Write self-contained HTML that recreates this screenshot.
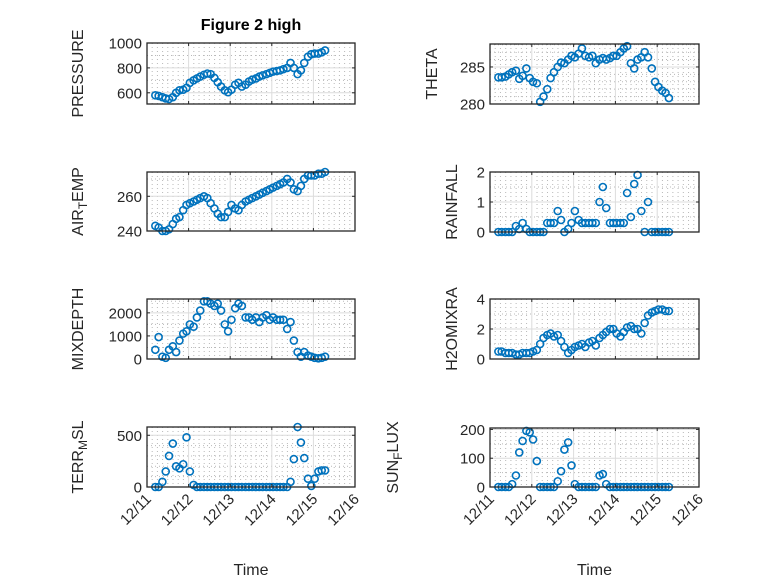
<!DOCTYPE html>
<html><head><meta charset="utf-8">
<style>
html,body{margin:0;padding:0;background:#fff;}
svg{display:block;font-family:"Liberation Sans",sans-serif;}
</style></head>
<body>
<svg id="fig" width="778" height="583" viewBox="0 0 778 583" xmlns="http://www.w3.org/2000/svg">
<rect width="778" height="583" fill="#fff"/>
<text x="251" y="30" text-anchor="middle" font-size="16" font-weight="bold" fill="#000">Figure 2 high</text>
</svg>
<script>
// time in days since 12/11 00:00
const times = [0.20,0.28,0.37,0.45,0.53,0.62,0.70,0.78,0.87,0.95,1.03,1.12,1.20,1.28,1.37,1.45,1.53,1.62,1.70,1.78,1.87,1.95,2.03,2.12,2.20,2.28,2.37,2.45,2.53,2.62,2.70,2.78,2.87,2.95,3.03,3.12,3.20,3.28,3.37,3.45,3.53,3.62,3.70,3.78,3.87,3.95,4.03,4.12,4.20,4.28];
const xTickLabels = ["12/11","12/12","12/13","12/14","12/15","12/16"];
const pressure = [580,575,565,555,550,565,600,620,625,640,680,700,715,730,745,755,750,720,685,650,620,605,625,665,680,650,665,690,705,715,730,740,750,760,770,775,780,790,800,840,800,750,780,840,890,910,915,915,925,940];
const airTemp = [243,242,240,240,241,244,247,248,252,255,256,257,258,259,260,259,256,253,250,248,248,251,255,253,252,255,257,258,259,260,261,262,263,264,265,266,267,268,270,268,264,263,266,270,272,272,272,273,273,274];
const mixDepth = [400,950,100,50,400,550,300,800,1100,1200,1500,1400,1800,2100,2500,2500,2400,2300,2400,2100,1500,1200,1700,2200,2400,2300,1800,1800,1700,1800,1600,1800,1900,1700,1800,1700,1700,1700,1300,1600,800,300,100,300,150,100,50,30,50,100];
const terrMsl = [0,0,50,150,300,420,200,180,220,480,150,20,0,0,0,0,0,0,0,0,0,0,0,0,0,0,0,0,0,0,0,0,0,0,0,0,0,0,0,50,270,580,430,280,80,10,80,150,160,160];
const theta = [283.6,283.6,283.7,284.0,284.3,284.5,283.4,283.8,284.8,283.5,283.0,282.8,280.3,281.0,282.0,283.5,284.3,285.0,285.6,285.5,286.0,286.5,286.3,286.8,287.5,286.5,286.3,286.5,285.5,286.0,286.2,286.0,286.2,286.5,286.5,287.0,287.5,287.8,285.5,284.8,286.0,286.3,287.0,286.3,284.8,283.0,282.3,281.8,281.5,280.8];
const rainfall = [0,0,0,0,0,0.2,0.1,0.3,0.1,0,0,0,0,0,0.3,0.3,0.3,0.7,0.4,0,0.1,0.3,0.7,0.4,0.3,0.3,0.3,0.3,0.3,1.0,1.5,0.8,0.3,0.3,0.3,0.3,0.3,1.3,0.5,1.6,1.9,0.7,0,1.0,0,0,0,0,0,0];
const h2oMix = [0.5,0.5,0.4,0.4,0.4,0.3,0.3,0.4,0.4,0.4,0.5,0.6,1.0,1.4,1.6,1.7,1.5,1.6,1.2,0.8,0.4,0.6,0.8,0.9,1.0,0.8,1.1,1.2,0.9,1.4,1.6,1.8,2.0,2.0,1.7,1.5,1.8,2.1,2.2,2.0,2.0,1.7,2.4,2.9,3.1,3.2,3.3,3.3,3.2,3.2];
const sunFlux = [0,0,0,0,10,40,120,160,195,190,165,90,0,0,0,0,0,20,55,130,155,75,10,0,0,0,0,0,0,40,45,10,0,0,0,0,0,0,0,0,0,0,0,0,0,0,0,0,0,0];

const NS="http://www.w3.org/2000/svg";
const svg=document.getElementById('fig');
function mk(tag,attrs,parent){const e=document.createElementNS(NS,tag);for(const k in attrs)e.setAttribute(k,attrs[k]);(parent||svg).appendChild(e);return e;}

const panels=[
 {name:'pressure',x0:147,x1:355,y0:43,y1:104,ymin:510,ymax:1000,ticks:[600,800,1000],minor:[500,700,900],data:pressure,label:['PRESSURE'],lx:83,bottom:false},
 {name:'air-temp',x0:147,x1:355,y0:172,y1:231,ymin:240,ymax:274,ticks:[240,260],minor:[250,270],data:airTemp,label:['AIR','T','EMP'],lx:83,bottom:false},
 {name:'mixdepth',x0:147,x1:355,y0:299,y1:359,ymin:0,ymax:2600,ticks:[0,1000,2000],minor:[500,1500,2500],data:mixDepth,label:['MIXDEPTH'],lx:83,bottom:false},
 {name:'terr-msl',x0:147,x1:355,y0:427,y1:487,ymin:0,ymax:580,ticks:[0,500],minor:[100,200,300,400],data:terrMsl,label:['TERR','M','SL'],lx:83,bottom:true},
 {name:'theta',x0:490,x1:699,y0:44,y1:104,ymin:280,ymax:288.1,ticks:[280,285],minor:[281,282,283,284,286,287,288],data:theta,label:['THETA'],lx:437,bottom:false},
 {name:'rainfall',x0:490,x1:699,y0:172,y1:232,ymin:0,ymax:2,ticks:[0,1,2],minor:[0.5,1.5],data:rainfall,label:['RAINFALL'],lx:457,bottom:false},
 {name:'h2omixra',x0:490,x1:699,y0:299,y1:359,ymin:0,ymax:4,ticks:[0,2,4],minor:[1,3],data:h2oMix,label:['H2OMIXRA'],lx:457,bottom:false},
 {name:'sun-flux',x0:490,x1:699,y0:428,y1:487,ymin:0,ymax:205,ticks:[0,100,200],minor:[50,150],data:sunFlux,label:['SUN','F','LUX'],lx:398,bottom:true}
];

panels.forEach(p=>{
  const g=mk('g',{});
  
  
  const xs=t=>p.x0+(t/5)*(p.x1-p.x0);
  const ys=v=>p.y1-(v-p.ymin)/(p.ymax-p.ymin)*(p.y1-p.y0);
  mk('rect',{x:p.x0,y:p.y0,width:p.x1-p.x0,height:p.y1-p.y0,fill:'#fff'},g);
  for(let i=1;i<40;i++){ if(i%8===0)continue; const x=xs(i/8);
    mk('line',{x1:x,x2:x,y1:p.y0,y2:p.y1,stroke:'#b8b8b8','stroke-width':1,'stroke-dasharray':'1,3'},g);}
  p.minor.forEach(v=>{ if(v<=p.ymin||v>=p.ymax)return; const y=ys(v);
    mk('line',{x1:p.x0,x2:p.x1,y1:y,y2:y,stroke:'#b8b8b8','stroke-width':1,'stroke-dasharray':'1,3'},g);});
  for(let i=1;i<5;i++){const x=xs(i);mk('line',{x1:x,x2:x,y1:p.y0,y2:p.y1,stroke:'#dcdcdc','stroke-width':1},g);}
  p.ticks.forEach(v=>{const y=ys(v); if(y>p.y0+0.5&&y<p.y1-0.5) mk('line',{x1:p.x0,x2:p.x1,y1:y,y2:y,stroke:'#dcdcdc','stroke-width':1},g);});
  const sg=mk('g',{},g);
  
  
  p.data.forEach((v,i)=>{
    const c=mk('circle',{cx:xs(times[i]),cy:ys(v),r:3.5,fill:'none',stroke:'#0072BD','stroke-width':1.6},sg);
    
    
  });
  mk('rect',{x:p.x0,y:p.y0,width:p.x1-p.x0,height:p.y1-p.y0,fill:'none',stroke:'#262626','stroke-width':1.3},g);
  for(let i=0;i<=5;i++){const x=xs(i);
    mk('line',{x1:x,x2:x,y1:p.y1,y2:p.y1-3,stroke:'#262626'},g);
    mk('line',{x1:x,x2:x,y1:p.y0,y2:p.y0+3,stroke:'#262626'},g);
    if(p.bottom){
      const tl=mk('text',{x:0,y:0,'font-size':15,fill:'#262626','text-anchor':'end',transform:`translate(${x+5},${p.y1+13}) rotate(-45)`},g);
      tl.textContent=xTickLabels[i];
      
      
    }
  }
  p.ticks.forEach(v=>{const y=ys(v);
    mk('line',{x1:p.x0,x2:p.x0+3,y1:y,y2:y,stroke:'#262626'},g);
    mk('line',{x1:p.x1,x2:p.x1-3,y1:y,y2:y,stroke:'#262626'},g);
    const t=mk('text',{x:p.x0-5,y:y+5.5,'font-size':15,fill:'#262626','text-anchor':'end'},g);
    t.textContent=String(v);
    
    
  });
  const cy=(p.y0+p.y1)/2;
  const lab=mk('text',{x:0,y:0,'font-size':16,fill:'#262626','text-anchor':'middle',transform:`translate(${p.lx},${cy}) rotate(-90)`},g);
  
  
  if(p.label.length===1){lab.textContent=p.label[0];}
  else{
    const a=mk('tspan',{},lab);a.textContent=p.label[0];
    const b=mk('tspan',{'font-size':12,dy:4},lab);b.textContent=p.label[1];
    const c=mk('tspan',{dy:-4},lab);c.textContent=p.label[2];
  }
  if(p.bottom){
    const xt=mk('text',{x:(p.x0+p.x1)/2,y:575,'font-size':16,fill:'#262626','text-anchor':'middle'},g);
    xt.textContent='Time';
    
    
  }
});
</script>
</body></html>
